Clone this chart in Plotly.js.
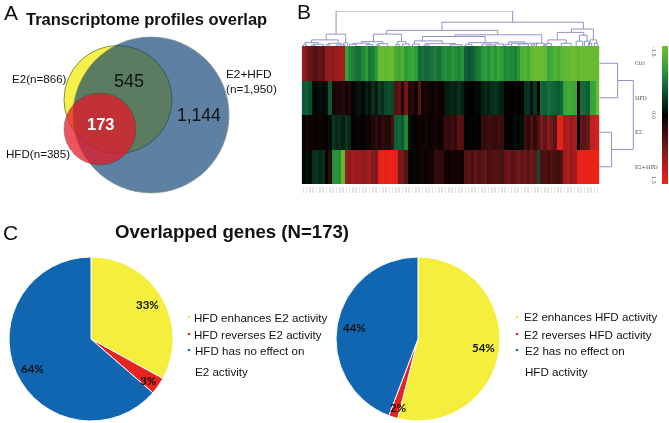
<!DOCTYPE html>
<html><head><meta charset="utf-8">
<script src="https://cdn.plot.ly/plotly-3.0.1.min.js"></script>
<style>html,body{margin:0;padding:0;background:#fff}#c{width:669px;height:423px;filter:blur(.3px)}</style>
</head><body><div id="c"></div>
<script>
// ---- Panel A: Venn
const vennSets = ['E2','E2+HFD','HFD'];
const vennX = [118,151,100];
const vennY = [99.5,115,129];
const vennDiameter = [108,156,72];
const vennColors = ['#f6f04a','#02396f','#e71625'];
const vennOpacity = [1,0.63,0.73];
// ---- Panel B: heat map
const rowNames = ['Ctrl','HFD','E2','E2+HFD'];
const ctrl = [.95,.75,.6,.55,.5,.6,.55,.85,.9,.85,.95,1,1,
 -1.1,-.9,-.8,-.7,-.7,-.85,-1,-.75,-.8,-1,
 -1.45,-1.45,-1.4,-1.45,-1.45,
 -1.2,-1.15,-1.3,-1,-1.1,-1.15,-1,
 -.65,-.7,-.65,-.7,-.75,-.8,-.7,-.85,-.9,-.85,-.95,-.9,-.85,-.95,-.6,-.55,-.6,-.7,
 -.8,-.95,-1,-.9,-1.05,-.95,-1.1,-1,-.85,-.9,-.85,-.8,-.95,
 -1.25,-1.3,-1.2,-1.4,-1.45,-1.45,-1.45,-1.4,-1.1,-1.15,-1.3,-1.2,-1.35,-1.4,-1.4,-1.45,-1.45,-1.4,-1.45,-1.45,-1.45,-1.45,-1.45,-1.45];
const hfd = [-.55,-.6,-.5,-.05,-.05,-.1,-.05,-.1,-.55,.15,.2,.15,.25,.1,.2,.05,
 -.1,-.15,-.05,-.2,-.1,-.3,-.15,-.4,-.3,-.45,-.5,-.45,.5,.6,.2,.7,.2,.25,.1,.55,
 .1,.15,.1,.05,.15,.1,.05,-.15,-.2,-.25,-.2,-.3,-.2,-.05,-.02,0,-.05,-.05,
 -.2,-.25,-.2,-.3,-.35,-.25,-.2,.02,.05,0,.08,.02,-.02,-.3,-.35,-.1,-.35,0,
 -.65,-.6,-.7,-.65,-.6,-.55,-.65,-1.1,-1.2,-1.15,-1.1,0,-.7,-.65,-.6,-1.1,-1.1,-1.45];
const e2 = [.05,.15,.1,.08,.05,.1,.05,.02,-.1,-.35,-.25,-.3,-.2,-.35,-.25,
 .02,.05,.1,.02,.1,.08,.2,.3,.15,.3,.25,.2,.45,-.6,-.65,-.55,-.85,-.1,-.05,
 .05,.1,.08,.12,.05,.1,.15,.08,.12,.35,.3,.4,.3,.55,.5,0,.02,-.02,.05,.02,
 .35,.3,.4,.35,.3,.4,.35,-.02,.05,0,-.1,.05,-.1,.4,.25,.5,.3,.5,
 .75,.6,.85,.7,.55,1.4,1.4,1,1.05,.9,1,0,.6,.55,.65,1.15,1.2,1.25];
const e2hfd = [-.05,-.1,-.05,-.3,-.35,-.25,-.3,.1,.25,-.9,-.95,-.9,-1.4,
 .95,.85,1,.9,.95,.85,.9,1,.8,.75,1.4,1.45,1.4,1.45,1.45,1.4,.7,.75,.55,
 .02,.05,-.05,.1,.15,.08,.12,.1,.35,.3,.25,.1,.08,.15,.1,.12,.08,
 .5,.55,.45,.6,.5,.55,.6,.45,.5,.55,.5,.45,.6,.7,.55,.6,.7,.6,.65,.55,.7,.6,-.5,
 .45,.5,.4,.5,.45,.4,.5,.95,1.05,.9,.95,1.45,1.45,1.4,1.45,1.45,1.45,1.45];
const scaleLevels = [-1.5,-1.25,-1,-.75,-.5,-.25,0,.25,.5,.75,1,1.25,1.5];
const scaleTickText = ['-1.5','0.0','1.5'];
const heatScale = [[0,'#70bf2e'],[.17,'#2a9c3a'],[.3,'#0f5f38'],[.5,'#000000'],[.75,'#7a1a1c'],[.9,'#c8201f'],[1,'#f22314']];
// merges: [left position, right position, left height, right height, top]
const colMerges = [
 [9.9,63.3,35,70,103],[6.9,12.8,18,9,35],[2.5,10.5,10,8,18],[.5,4.5,4,5,10],[7.5,11.5,4,3,8],
 [0,1,0,0,4],[3,6,3,0,5],[2.5,3.5,0,0,3],[7,8,0,0,4],[10,12.5,0,0,3],[12.2,13.4,0,0,9],
 [41.9,84.7,46,50,70],[25.2,58.8,35,33,46],[21.2,29.7,13,13,35],[17.5,24,8,7,13],[15,20,5,4,8],
 [14,16,0,0,5],[19,21,0,0,4],[22.5,25.5,3,0,7],[22,23,0,0,3],[28.5,31,5,6,13],[28,29,0,0,5],[30,32,0,0,6],
 [45.9,72.1,28,8,33],[36,55,15,10,28],[33.6,42,6,7,15],[33,35,0,0,6],[37,46,3,4,7],[36.5,38,0,0,3],[44.5,48,0,0,4],
 [50,59,5,6,10],[49,51,0,0,5],[54,57,0,3,5.5],[55.5,58,0,0,3],[58,60.5,0,0,6],
 [62,67,5,6,12],[61,63,0,0,5],[65,68,0,0,6],[69,70,0,0,4],[70.5,73,0,0,8],
 [72.5,73.5,0,0,3],[63,71,12,8,8],
 [81.1,87.7,40,18,50],[76.8,84.8,18,32,40],[74,79.5,7,8,18],[73.5,75,0,0,7],[78,81,0,0,8],
 [83.5,85.8,14,14,32],[82.5,84.5,0,0,14],[85,86.5,0,0,14],[86.7,88.7,8,8,18],[86.2,87.2,0,0,8],[88,89,0,0,8]
];
const rowMerges = [
 [.5,2.5,54,36,100],[0,1,0,0,54],[2,3,0,0,36]
];
// ---- Panel C: pies
const pieLabelsLeft = ['HFD enhances E2 activity','HFD reverses E2 activity','HFD has no effect on'];
const pieValuesLeft = [33,3.4,63.6];
const pieLabelsRight = ['E2 enhances HFD activity','E2 reverses HFD activity','E2 has no effect on'];
const pieValuesRight = [54,1.8,44.2];
const pieColors = ['#f4ee3c','#e5231f','#1166b2'];

const W=669,H=423;
const fx=p=>p/W, fy=p=>1-p/H;
const DEND='#9094c6';

function colSegs(m){const x=[],y=[];m.forEach(a=>{x.push(a[0],a[0],a[1],a[1],null);y.push(a[2],a[4],a[4],a[3],null);});return {x,y};}
function rowSegs(m){const x=[],y=[];m.forEach(a=>{y.push(a[0],a[0],a[1],a[1],null);x.push(a[2],a[4],a[4],a[3],null);});return {x,y};}
const cs=colSegs(colMerges), rs=rowSegs(rowMerges);

const traces=[
 {type:'scatter',mode:'markers',x:vennX,y:vennY,xaxis:'x',yaxis:'y',text:vennSets,hoverinfo:'text',cliponaxis:false,
  marker:{size:vennDiameter,sizemode:'diameter',color:vennColors,opacity:vennOpacity,line:{color:'#3a4a30',width:.6}}},
 {type:'scatter',mode:'markers',xaxis:'x',yaxis:'y',hoverinfo:'skip',
  x:[189,189,189,517,517,517],y:[317,334,350,317,334,350],
  marker:{size:2.2,symbol:'square',color:pieColors.concat(pieColors)}},
 {type:'heatmap',z:[ctrl,hfd,e2,e2hfd],xaxis:'x2',yaxis:'y2',zmin:-1.5,zmax:1.5,colorscale:heatScale,showscale:false,xgap:0,ygap:0},
 {type:'scatter',mode:'lines',x:cs.x,y:cs.y,xaxis:'x3',yaxis:'y3',line:{color:DEND,width:1},hoverinfo:'skip'},
 {type:'scatter',mode:'lines',x:rs.x,y:rs.y,xaxis:'x4',yaxis:'y4',line:{color:DEND,width:1},hoverinfo:'skip'},
 {type:'heatmap',z:scaleLevels.map(v=>[v,v]),x:[0,1],y:scaleLevels,xaxis:'x5',yaxis:'y5',zmin:-1.5,zmax:1.5,colorscale:heatScale,showscale:false,zsmooth:'best'},
 {type:'pie',labels:pieLabelsLeft,values:pieValuesLeft,sort:false,direction:'clockwise',rotation:0,textinfo:'none',
  marker:{colors:pieColors,line:{color:'#fff',width:1}},domain:{x:[fx(9),fx(173)],y:[fy(421),fy(257)]},showlegend:false},
 {type:'pie',labels:pieLabelsRight,values:pieValuesRight,sort:false,direction:'clockwise',rotation:0,textinfo:'none',
  marker:{colors:pieColors,line:{color:'#fff',width:1}},domain:{x:[fx(336),fx(500)],y:[fy(421),fy(257)]},showlegend:false}
];

const AR='"Liberation Sans",Arial,sans-serif', CAL='Lato,sans-serif', SER='"DejaVu Serif",serif';
function t(text,x,y,size,o){o=o||{};return {text,xref:'paper',yref:'paper',x:fx(x),y:fy(y),xanchor:o.a||'left',yanchor:'middle',showarrow:false,
  textangle:o.r||0,font:{family:o.f||AR,size,color:o.c||'#111'}};}
const ann=[
 t('A',2,12,21),t('B',295,11,21),t('C',1,232,21),
 t('<b>Transcriptome profiles overlap</b>',146,19,16.5,{a:'center'}),
 t('<b>Overlapped genes (N=173)</b>',232,231,18.6,{a:'center'}),
 t('E2(n=866)',9.5,78,11.6),t('E2+HFD',224,74,11.8),t('(n=1,950)',224,89,11.8),t('HFD(n=385)',3.5,153,11.6),
 t('545',129,81,18,{a:'center'}),t('1,144',199,115,17.5,{a:'center'}),
 t('<b>173</b>',101,124,16.5,{a:'center',c:'#fff'}),
 t(scaleTickText[0],654,52,5,{a:'center',r:90,f:SER,c:'#444'}),
 t(scaleTickText[1],654,115,5,{a:'center',r:90,f:SER,c:'#444'}),
 t(scaleTickText[2],654,180,5,{a:'center',r:90,f:SER,c:'#444'}),
 t('<b>33%</b>',147,304,11.5,{a:'center',f:CAL}),t('<b>3%</b>',148,380,11.5,{a:'center',f:CAL}),t('<b>64%</b>',32,368,11.5,{a:'center',f:CAL}),
 t('<b>44%</b>',354,327,11.5,{a:'center',f:CAL}),t('<b>54%</b>',483,347,11.5,{a:'center',f:CAL}),t('<b>2%</b>',398,407,11.5,{a:'center',f:CAL}),
 t(pieLabelsLeft[0],192,317.5,11.6),t(pieLabelsLeft[1],192,334,11.6),t(pieLabelsLeft[2],193,350,11.6),t('E2 activity',193,371,11.6),
 t(pieLabelsRight[0],521.5,316,11.6),t(pieLabelsRight[1],521.5,334,11.6),t(pieLabelsRight[2],522.5,350,11.6),t('HFD activity',522.5,371,11.6)
];
const off={visible:false,fixedrange:true};
const layout={width:W,height:H,margin:{l:0,r:0,t:0,b:0,pad:0},paper_bgcolor:'#fff',plot_bgcolor:'rgba(0,0,0,0)',showlegend:false,annotations:ann,
 xaxis:{...off,domain:[0,1],range:[0,W]},yaxis:{...off,domain:[0,1],range:[H,0]},
 xaxis2:{domain:[fx(301.7),fx(599.3)],range:[-.5,89.5],anchor:'free',position:fy(186),side:'bottom',showgrid:false,zeroline:false,showline:false,
   tickmode:'linear',tick0:0,dtick:1,ticks:'outside',ticklen:6,tickwidth:1.6,tickcolor:'#e2e2e2',showticklabels:false,fixedrange:true},
 yaxis2:{...off,domain:[fy(184),fy(46)],range:[3.5,-.5]},
 xaxis3:{...off,domain:[fx(301.7),fx(599.3)],range:[-.5,89.5],anchor:'y3'},
 yaxis3:{...off,domain:[fy(46),fy(11)],range:[0,103],anchor:'x3'},
 xaxis4:{...off,domain:[fx(599.3),fx(634)],range:[0,102],anchor:'y4'},
 yaxis4:{domain:[fy(184),fy(46)],range:[3.5,-.5],anchor:'x4',side:'right',showgrid:false,zeroline:false,showline:false,ticks:'',
   tickmode:'array',tickvals:[0,1,2,3],ticktext:rowNames,tickfont:{family:SER,size:5,color:'#444'},fixedrange:true},
 xaxis5:{...off,domain:[fx(662),fx(668)],range:[0,1],anchor:'y5'},
 yaxis5:{...off,domain:[fy(184),fy(46)],range:[1.5,-1.5],anchor:'x5'}
};
Plotly.newPlot('c',traces,layout,{displayModeBar:false,staticPlot:true});
</script></body></html>
